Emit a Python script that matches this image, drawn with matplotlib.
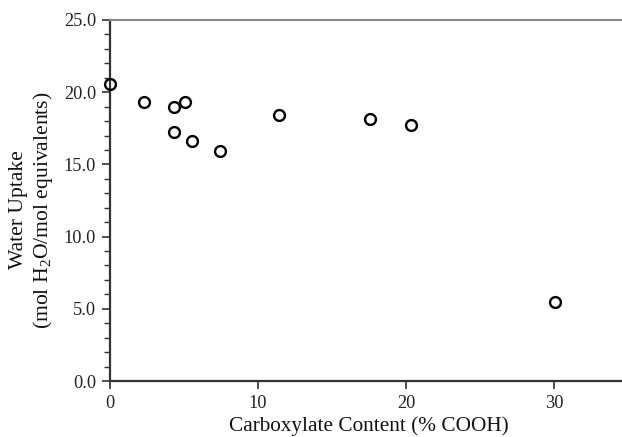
import matplotlib
matplotlib.use("Agg")
import matplotlib.pyplot as plt
from matplotlib.ticker import MultipleLocator, FormatStrFormatter

carboxylate = [0.0, 2.3, 4.35, 5.1, 4.35, 5.55, 7.45, 11.4, 17.55, 20.35, 30.05]
water_uptake = [20.55, 19.35, 18.95, 19.35, 17.25, 16.65, 15.9, 18.45, 18.15, 17.7, 5.5]

x_ticks = [0, 10, 20, 30]
y_ticks = [0.0, 5.0, 10.0, 15.0, 20.0, 25.0]

plt.rcParams['font.family'] = ['Liberation Serif', 'DejaVu Serif']
plt.rcParams['mathtext.fontset'] = 'custom'
plt.rcParams['mathtext.rm'] = 'Liberation Serif'

fig = plt.figure(figsize=(6.22, 4.37), dpi=100)
ax = fig.add_axes([110/622, 56/437, 518/622, 361/437])

ax.plot(carboxylate, water_uptake, linestyle='none', marker='o', markersize=7.8,
        markerfacecolor='none', markeredgecolor='black', markeredgewidth=1.7,
        clip_on=False, zorder=5)

ax.set_xlim(0, 35)
ax.set_ylim(0, 25)
ax.set_xticks(x_ticks)
ax.set_yticks(y_ticks)
ax.yaxis.set_major_formatter(FormatStrFormatter('%.1f'))
ax.yaxis.set_minor_locator(MultipleLocator(1))

ax.tick_params(axis='both', which='major', direction='out', length=6, width=1.2,
               color='#333333', labelsize=13.2, labelcolor='#222222')
ax.tick_params(axis='x', pad=4)
ax.tick_params(axis='y', pad=4)
ax.tick_params(axis='y', which='minor', direction='out', length=4, width=1.0, color='#333333')

for s in ['left', 'bottom']:
    ax.spines[s].set_color('#333333')
    ax.spines[s].set_linewidth(1.6)
ax.spines['top'].set_color('#888888')
ax.spines['top'].set_linewidth(1.5)
ax.spines['right'].set_visible(False)

ax.set_xlabel('Carboxylate Content (% COOH)', fontsize=15.3, color='#111111', labelpad=3)
ax.set_ylabel('Water Uptake\n(mol H$_2$O/mol equivalents)', fontsize=15.6,
              color='#111111', labelpad=5, linespacing=1.2)
ax.yaxis.set_label_coords(-0.106, 0.474)

fig.savefig('out.png', dpi=100)
